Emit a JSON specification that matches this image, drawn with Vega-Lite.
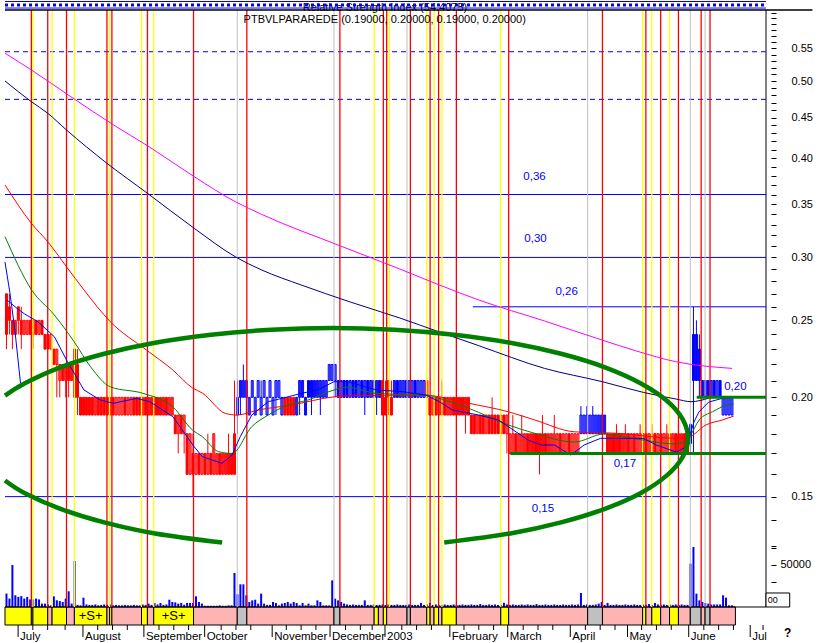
{
"$schema":"https://vega.github.io/schema/vega-lite/v6.json",
"width":771,"height":615,"autosize":"none",
"padding":{"left":0,"top":10,"right":47,"bottom":18},
"background":"white",
"config":{"view":{"stroke":null},"font":"Liberation Sans","axis":{"grid":false}},
"datasets":{
"cd":[
{"t":0.5,"o":0.27,"h":0.27,"l":0.23,"c":0.24,"k":"r","v":16000},
{"t":1.5,"o":0.26,"h":0.27,"l":0.24,"c":0.25,"k":"r","v":10000},
{"t":2.5,"o":0.25,"h":0.25,"l":0.23,"c":0.24,"k":"r","v":50000},
{"t":3.5,"o":0.24,"h":0.25,"l":0.24,"c":0.25,"k":"r","v":14000},
{"t":4.5,"o":0.26,"h":0.26,"l":0.24,"c":0.25,"k":"r","v":12000},
{"t":5.5,"o":0.25,"h":0.26,"l":0.23,"c":0.24,"k":"r","v":13000},
{"t":6.5,"o":0.24,"h":0.25,"l":0.24,"c":0.25,"k":"r","v":10000},
{"t":7.5,"o":0.24,"h":0.25,"l":0.24,"c":0.25,"k":"r","v":12000},
{"t":8.5,"o":0.25,"h":0.25,"l":0.24,"c":0.24,"k":"r","v":9000},
{"t":9.5,"o":0.24,"h":0.25,"l":0.23,"c":0.25,"k":"r","v":9000},
{"t":10.5,"o":0.25,"h":0.25,"l":0.24,"c":0.24,"k":"r","v":10000},
{"t":11.5,"o":0.24,"h":0.25,"l":0.24,"c":0.25,"k":"r","v":9000},
{"t":12.5,"o":0.25,"h":0.25,"l":0.24,"c":0.24,"k":"r","v":4000},
{"t":13.5,"o":0.24,"h":0.24,"l":0.23,"c":0.23,"k":"r","v":4000},
{"t":14.5,"o":0.24,"h":0.24,"l":0.23,"c":0.23,"k":"r","v":3000},
{"t":15.5,"o":0.23,"h":0.24,"l":0.23,"c":0.24,"k":"r","v":2000},
{"t":16.5,"o":0.23,"h":0.23,"l":0.22,"c":0.22,"k":"r","v":12700},
{"t":17.5,"o":0.22,"h":0.23,"l":0.20,"c":0.23,"k":"r","v":8000},
{"t":18.5,"o":0.21,"h":0.22,"l":0.20,"c":0.22,"k":"r","v":7000},
{"t":19.5,"o":0.22,"h":0.22,"l":0.21,"c":0.21,"k":"r","v":6000},
{"t":20.5,"o":0.21,"h":0.22,"l":0.20,"c":0.22,"k":"r","v":10000},
{"t":21.5,"o":0.22,"h":0.22,"l":0.20,"c":0.21,"k":"r","v":18700},
{"t":22.5,"o":0.21,"h":0.22,"l":0.21,"c":0.22,"k":"r","v":4000},
{"t":23.5,"o":0.23,"h":0.23,"l":0.20,"c":0.20,"k":"r","v":54800},
{"t":24.5,"o":0.22,"h":0.23,"l":0.19,"c":0.20,"k":"r","v":2500},
{"t":25.5,"o":0.20,"h":0.20,"l":0.19,"c":0.19,"k":"r","v":2000},
{"t":26.5,"o":0.20,"h":0.20,"l":0.19,"c":0.19,"k":"r","v":11100},
{"t":27.5,"o":0.20,"h":0.20,"l":0.19,"c":0.19,"k":"r","v":3000},
{"t":28.5,"o":0.20,"h":0.20,"l":0.19,"c":0.19,"k":"r","v":2500},
{"t":29.5,"o":0.20,"h":0.20,"l":0.19,"c":0.19,"k":"r","v":2500},
{"t":30.5,"o":0.19,"h":0.20,"l":0.19,"c":0.20,"k":"r","v":3000},
{"t":31.5,"o":0.20,"h":0.20,"l":0.19,"c":0.19,"k":"r","v":2000},
{"t":32.5,"o":0.20,"h":0.20,"l":0.19,"c":0.19,"k":"r","v":2500},
{"t":33.5,"o":0.20,"h":0.20,"l":0.19,"c":0.19,"k":"r","v":3000},
{"t":34.5,"o":0.20,"h":0.20,"l":0.19,"c":0.19,"k":"r","v":2500},
{"t":35.5,"o":0.20,"h":0.20,"l":0.19,"c":0.19,"k":"r","v":3000},
{"t":36.5,"o":0.20,"h":0.20,"l":0.19,"c":0.19,"k":"r","v":2000},
{"t":37.5,"o":0.19,"h":0.20,"l":0.19,"c":0.20,"k":"r","v":2500},
{"t":38.5,"o":0.19,"h":0.20,"l":0.19,"c":0.20,"k":"r","v":2000},
{"t":39.5,"o":0.19,"h":0.20,"l":0.19,"c":0.20,"k":"r","v":2000},
{"t":40.5,"o":0.20,"h":0.20,"l":0.19,"c":0.19,"k":"r","v":2500},
{"t":41.5,"o":0.19,"h":0.20,"l":0.19,"c":0.20,"k":"r","v":2000},
{"t":42.5,"o":0.19,"h":0.20,"l":0.19,"c":0.20,"k":"r","v":2000},
{"t":43.5,"o":0.20,"h":0.20,"l":0.19,"c":0.19,"k":"r","v":2500},
{"t":44.5,"o":0.20,"h":0.20,"l":0.19,"c":0.19,"k":"r","v":2000},
{"t":45.5,"o":0.20,"h":0.20,"l":0.19,"c":0.19,"k":"r","v":2000},
{"t":46.5,"o":0.19,"h":0.20,"l":0.19,"c":0.20,"k":"r","v":3000},
{"t":47.5,"o":0.20,"h":0.20,"l":0.19,"c":0.19,"k":"r","v":2500},
{"t":48.5,"o":0.19,"h":0.20,"l":0.19,"c":0.20,"k":"r","v":4000},
{"t":49.5,"o":0.19,"h":0.20,"l":0.19,"c":0.20,"k":"r","v":2500},
{"t":50.5,"o":0.20,"h":0.20,"l":0.19,"c":0.19,"k":"r","v":4800},
{"t":51.5,"o":0.19,"h":0.20,"l":0.19,"c":0.20,"k":"r","v":3000},
{"t":52.5,"o":0.19,"h":0.20,"l":0.19,"c":0.20,"k":"r","v":4800},
{"t":53.5,"o":0.19,"h":0.20,"l":0.19,"c":0.20,"k":"r","v":2500},
{"t":54.5,"o":0.20,"h":0.20,"l":0.19,"c":0.19,"k":"r","v":3000},
{"t":55.5,"o":0.19,"h":0.20,"l":0.19,"c":0.20,"k":"r","v":8700},
{"t":56.5,"o":0.19,"h":0.20,"l":0.19,"c":0.20,"k":"r","v":6000},
{"t":57.5,"o":0.19,"h":0.19,"l":0.18,"c":0.18,"k":"r","v":5500},
{"t":58.5,"o":0.18,"h":0.19,"l":0.17,"c":0.19,"k":"r","v":4000},
{"t":59.5,"o":0.19,"h":0.19,"l":0.18,"c":0.18,"k":"r","v":4800},
{"t":60.5,"o":0.18,"h":0.19,"l":0.17,"c":0.19,"k":"r","v":2700},
{"t":61.5,"o":0.18,"h":0.18,"l":0.16,"c":0.16,"k":"r","v":4800},
{"t":62.5,"o":0.16,"h":0.18,"l":0.16,"c":0.18,"k":"r","v":4800},
{"t":63.5,"o":0.17,"h":0.18,"l":0.15,"c":0.16,"k":"r","v":4800},
{"t":64.5,"o":0.16,"h":0.17,"l":0.16,"c":0.17,"k":"r","v":12700},
{"t":65.5,"o":0.17,"h":0.17,"l":0.16,"c":0.16,"k":"r","v":6000},
{"t":66.5,"o":0.16,"h":0.17,"l":0.16,"c":0.17,"k":"r","v":4000},
{"t":67.5,"o":0.17,"h":0.17,"l":0.16,"c":0.16,"k":"r","v":1500},
{"t":68.5,"o":0.16,"h":0.18,"l":0.16,"c":0.17,"k":"r","v":1500},
{"t":69.5,"o":0.17,"h":0.17,"l":0.16,"c":0.16,"k":"r","v":1500},
{"t":70.5,"o":0.16,"h":0.18,"l":0.16,"c":0.18,"k":"r","v":1500},
{"t":71.5,"o":0.16,"h":0.17,"l":0.16,"c":0.17,"k":"r","v":1500},
{"t":72.5,"o":0.17,"h":0.17,"l":0.16,"c":0.16,"k":"r","v":2000},
{"t":73.5,"o":0.16,"h":0.17,"l":0.16,"c":0.17,"k":"r","v":1500},
{"t":74.5,"o":0.16,"h":0.17,"l":0.16,"c":0.17,"k":"r","v":1500},
{"t":75.5,"o":0.16,"h":0.18,"l":0.16,"c":0.17,"k":"r","v":2000},
{"t":76.5,"o":0.16,"h":0.17,"l":0.16,"c":0.17,"k":"r","v":2000},
{"t":77.5,"o":0.16,"h":0.21,"l":0.16,"c":0.18,"k":"r","v":40500},
{"t":78.5,"o":0.19,"h":0.21,"l":0.18,"c":0.20,"k":"b","v":15100},
{"t":79.5,"o":0.20,"h":0.21,"l":0.19,"c":0.21,"k":"b","v":27000},
{"t":80.5,"o":0.20,"h":0.22,"l":0.20,"c":0.21,"k":"b","v":27000},
{"t":81.5,"o":0.20,"h":0.21,"l":0.19,"c":0.21,"k":"b","v":13900},
{"t":82.5,"o":0.19,"h":0.20,"l":0.19,"c":0.20,"k":"b","v":6000},
{"t":83.5,"o":0.20,"h":0.21,"l":0.20,"c":0.21,"k":"b","v":7900},
{"t":84.5,"o":0.19,"h":0.20,"l":0.19,"c":0.20,"k":"b","v":8700},
{"t":85.5,"o":0.20,"h":0.21,"l":0.20,"c":0.21,"k":"b","v":4000},
{"t":86.5,"o":0.19,"h":0.21,"l":0.19,"c":0.20,"k":"b","v":15900},
{"t":87.5,"o":0.20,"h":0.21,"l":0.20,"c":0.21,"k":"b","v":4000},
{"t":88.5,"o":0.19,"h":0.20,"l":0.19,"c":0.20,"k":"b","v":2500},
{"t":89.5,"o":0.20,"h":0.21,"l":0.20,"c":0.21,"k":"b","v":2500},
{"t":90.5,"o":0.19,"h":0.20,"l":0.19,"c":0.20,"k":"b","v":6000},
{"t":91.5,"o":0.20,"h":0.21,"l":0.19,"c":0.21,"k":"b","v":4800},
{"t":92.5,"o":0.20,"h":0.21,"l":0.20,"c":0.21,"k":"b","v":2000},
{"t":93.5,"o":0.19,"h":0.20,"l":0.19,"c":0.20,"k":"b","v":4000},
{"t":94.5,"o":0.20,"h":0.20,"l":0.19,"c":0.19,"k":"r","v":4800},
{"t":95.5,"o":0.20,"h":0.20,"l":0.19,"c":0.19,"k":"r","v":6000},
{"t":96.5,"o":0.20,"h":0.20,"l":0.19,"c":0.19,"k":"r","v":4000},
{"t":97.5,"o":0.20,"h":0.20,"l":0.19,"c":0.19,"k":"r","v":6000},
{"t":98.5,"o":0.19,"h":0.20,"l":0.19,"c":0.20,"k":"b","v":4800},
{"t":99.5,"o":0.20,"h":0.21,"l":0.19,"c":0.21,"k":"b","v":2000},
{"t":100.5,"o":0.20,"h":0.21,"l":0.20,"c":0.21,"k":"b","v":4800},
{"t":101.5,"o":0.19,"h":0.20,"l":0.19,"c":0.20,"k":"b","v":2000},
{"t":102.5,"o":0.20,"h":0.21,"l":0.20,"c":0.21,"k":"b","v":4000},
{"t":103.5,"o":0.20,"h":0.21,"l":0.19,"c":0.21,"k":"b","v":2000},
{"t":104.5,"o":0.20,"h":0.21,"l":0.20,"c":0.21,"k":"b","v":2000},
{"t":105.5,"o":0.20,"h":0.21,"l":0.20,"c":0.21,"k":"b","v":7900},
{"t":106.5,"o":0.20,"h":0.21,"l":0.19,"c":0.21,"k":"b","v":6000},
{"t":107.5,"o":0.20,"h":0.21,"l":0.20,"c":0.21,"k":"b","v":2000},
{"t":108.5,"o":0.20,"h":0.21,"l":0.20,"c":0.21,"k":"b","v":2000},
{"t":109.5,"o":0.21,"h":0.22,"l":0.21,"c":0.22,"k":"b","v":2000},
{"t":110.5,"o":0.21,"h":0.22,"l":0.21,"c":0.22,"k":"b","v":31700},
{"t":111.5,"o":0.21,"h":0.22,"l":0.20,"c":0.22,"k":"b","v":9900},
{"t":112.5,"o":0.21,"h":0.21,"l":0.20,"c":0.20,"k":"b","v":7900},
{"t":113.5,"o":0.20,"h":0.21,"l":0.20,"c":0.21,"k":"b","v":6000},
{"t":114.5,"o":0.21,"h":0.21,"l":0.20,"c":0.20,"k":"b","v":4000},
{"t":115.5,"o":0.21,"h":0.21,"l":0.20,"c":0.20,"k":"b","v":3000},
{"t":116.5,"o":0.20,"h":0.21,"l":0.20,"c":0.21,"k":"b","v":2500},
{"t":117.5,"o":0.21,"h":0.21,"l":0.20,"c":0.20,"k":"b","v":3000},
{"t":118.5,"o":0.21,"h":0.21,"l":0.20,"c":0.20,"k":"b","v":2500},
{"t":119.5,"o":0.20,"h":0.21,"l":0.20,"c":0.21,"k":"b","v":2500},
{"t":120.5,"o":0.21,"h":0.21,"l":0.20,"c":0.20,"k":"b","v":2500},
{"t":121.5,"o":0.20,"h":0.21,"l":0.19,"c":0.21,"k":"b","v":7900},
{"t":122.5,"o":0.21,"h":0.21,"l":0.20,"c":0.20,"k":"b","v":2500},
{"t":123.5,"o":0.20,"h":0.21,"l":0.20,"c":0.21,"k":"b","v":2500},
{"t":124.5,"o":0.21,"h":0.21,"l":0.20,"c":0.20,"k":"b","v":3000},
{"t":125.5,"o":0.20,"h":0.21,"l":0.19,"c":0.21,"k":"b","v":2500},
{"t":126.5,"o":0.21,"h":0.21,"l":0.20,"c":0.20,"k":"b","v":2500},
{"t":127.5,"o":0.21,"h":0.21,"l":0.19,"c":0.19,"k":"r","v":3000},
{"t":128.5,"o":0.20,"h":0.21,"l":0.19,"c":0.19,"k":"r","v":2500},
{"t":129.5,"o":0.21,"h":0.21,"l":0.19,"c":0.20,"k":"r","v":3000},
{"t":130.5,"o":0.20,"h":0.21,"l":0.19,"c":0.19,"k":"r","v":2500},
{"t":131.5,"o":0.20,"h":0.21,"l":0.20,"c":0.21,"k":"b","v":2500},
{"t":132.5,"o":0.21,"h":0.21,"l":0.20,"c":0.20,"k":"b","v":3000},
{"t":133.5,"o":0.20,"h":0.21,"l":0.20,"c":0.21,"k":"b","v":2500},
{"t":134.5,"o":0.20,"h":0.21,"l":0.20,"c":0.21,"k":"b","v":2500},
{"t":135.5,"o":0.21,"h":0.21,"l":0.20,"c":0.20,"k":"b","v":2500},
{"t":136.5,"o":0.20,"h":0.21,"l":0.20,"c":0.21,"k":"b","v":3000},
{"t":137.5,"o":0.20,"h":0.21,"l":0.20,"c":0.21,"k":"b","v":2500},
{"t":138.5,"o":0.21,"h":0.21,"l":0.20,"c":0.20,"k":"b","v":2500},
{"t":139.5,"o":0.20,"h":0.21,"l":0.20,"c":0.21,"k":"b","v":2500},
{"t":140.5,"o":0.20,"h":0.21,"l":0.20,"c":0.21,"k":"b","v":4800},
{"t":141.5,"o":0.20,"h":0.21,"l":0.20,"c":0.21,"k":"b","v":2500},
{"t":142.5,"o":0.21,"h":0.21,"l":0.20,"c":0.20,"k":"r","v":3000},
{"t":143.5,"o":0.20,"h":0.20,"l":0.19,"c":0.19,"k":"r","v":4800},
{"t":144.5,"o":0.19,"h":0.20,"l":0.19,"c":0.20,"k":"r","v":2500},
{"t":145.5,"o":0.20,"h":0.20,"l":0.19,"c":0.19,"k":"r","v":3000},
{"t":146.5,"o":0.19,"h":0.20,"l":0.19,"c":0.20,"k":"r","v":2500},
{"t":147.5,"o":0.20,"h":0.21,"l":0.19,"c":0.19,"k":"r","v":2500},
{"t":148.5,"o":0.20,"h":0.20,"l":0.19,"c":0.19,"k":"r","v":3000},
{"t":149.5,"o":0.19,"h":0.20,"l":0.19,"c":0.20,"k":"r","v":2500},
{"t":150.5,"o":0.19,"h":0.20,"l":0.19,"c":0.20,"k":"r","v":2500},
{"t":151.5,"o":0.20,"h":0.20,"l":0.19,"c":0.19,"k":"r","v":3000},
{"t":152.5,"o":0.20,"h":0.21,"l":0.19,"c":0.19,"k":"r","v":2500},
{"t":153.5,"o":0.19,"h":0.20,"l":0.19,"c":0.20,"k":"r","v":2500},
{"t":154.5,"o":0.20,"h":0.20,"l":0.19,"c":0.19,"k":"r","v":3000},
{"t":155.5,"o":0.19,"h":0.20,"l":0.18,"c":0.20,"k":"r","v":2500},
{"t":156.5,"o":0.20,"h":0.20,"l":0.19,"c":0.19,"k":"r","v":2500},
{"t":157.5,"o":0.19,"h":0.19,"l":0.18,"c":0.18,"k":"r","v":3000},
{"t":158.5,"o":0.19,"h":0.19,"l":0.18,"c":0.18,"k":"r","v":2500},
{"t":159.5,"o":0.18,"h":0.19,"l":0.18,"c":0.19,"k":"r","v":2500},
{"t":160.5,"o":0.19,"h":0.19,"l":0.18,"c":0.18,"k":"r","v":3500},
{"t":161.5,"o":0.19,"h":0.19,"l":0.18,"c":0.18,"k":"r","v":2500},
{"t":162.5,"o":0.18,"h":0.19,"l":0.18,"c":0.19,"k":"r","v":2500},
{"t":163.5,"o":0.19,"h":0.19,"l":0.18,"c":0.18,"k":"r","v":3000},
{"t":164.5,"o":0.19,"h":0.20,"l":0.18,"c":0.18,"k":"r","v":2500},
{"t":165.5,"o":0.19,"h":0.19,"l":0.18,"c":0.18,"k":"r","v":3000},
{"t":166.5,"o":0.19,"h":0.19,"l":0.18,"c":0.18,"k":"r","v":2500},
{"t":167.5,"o":0.18,"h":0.19,"l":0.18,"c":0.19,"k":"r","v":2500},
{"t":168.5,"o":0.19,"h":0.19,"l":0.18,"c":0.18,"k":"r","v":5000},
{"t":169.5,"o":0.18,"h":0.19,"l":0.17,"c":0.19,"k":"r","v":3000},
{"t":170.5,"o":0.17,"h":0.18,"l":0.17,"c":0.18,"k":"r","v":2500},
{"t":171.5,"o":0.17,"h":0.19,"l":0.17,"c":0.18,"k":"r","v":3000},
{"t":172.5,"o":0.18,"h":0.18,"l":0.17,"c":0.17,"k":"r","v":2500},
{"t":173.5,"o":0.17,"h":0.18,"l":0.17,"c":0.18,"k":"r","v":2500},
{"t":174.5,"o":0.17,"h":0.19,"l":0.17,"c":0.18,"k":"r","v":3000},
{"t":175.5,"o":0.17,"h":0.18,"l":0.17,"c":0.18,"k":"r","v":2500},
{"t":176.5,"o":0.18,"h":0.18,"l":0.17,"c":0.17,"k":"r","v":3000},
{"t":177.5,"o":0.17,"h":0.18,"l":0.17,"c":0.18,"k":"r","v":2500},
{"t":178.5,"o":0.17,"h":0.18,"l":0.17,"c":0.18,"k":"r","v":2500},
{"t":179.5,"o":0.17,"h":0.18,"l":0.17,"c":0.18,"k":"r","v":3500},
{"t":180.5,"o":0.17,"h":0.18,"l":0.16,"c":0.18,"k":"r","v":2500},
{"t":181.5,"o":0.17,"h":0.19,"l":0.17,"c":0.18,"k":"r","v":2500},
{"t":182.5,"o":0.18,"h":0.18,"l":0.17,"c":0.17,"k":"r","v":3000},
{"t":183.5,"o":0.17,"h":0.18,"l":0.17,"c":0.18,"k":"r","v":2500},
{"t":184.5,"o":0.17,"h":0.18,"l":0.17,"c":0.18,"k":"r","v":2500},
{"t":185.5,"o":0.17,"h":0.19,"l":0.17,"c":0.18,"k":"r","v":3000},
{"t":186.5,"o":0.17,"h":0.18,"l":0.17,"c":0.18,"k":"r","v":2500},
{"t":187.5,"o":0.18,"h":0.18,"l":0.17,"c":0.17,"k":"r","v":2500},
{"t":188.5,"o":0.17,"h":0.18,"l":0.17,"c":0.18,"k":"r","v":3000},
{"t":189.5,"o":0.17,"h":0.18,"l":0.17,"c":0.18,"k":"r","v":2500},
{"t":190.5,"o":0.18,"h":0.18,"l":0.17,"c":0.17,"k":"r","v":2500},
{"t":191.5,"o":0.17,"h":0.18,"l":0.17,"c":0.18,"k":"r","v":3000},
{"t":192.5,"o":0.17,"h":0.18,"l":0.17,"c":0.18,"k":"r","v":2500},
{"t":193.5,"o":0.17,"h":0.18,"l":0.17,"c":0.18,"k":"r","v":3000},
{"t":194.5,"o":0.18,"h":0.195,"l":0.18,"c":0.19,"k":"b","v":16700},
{"t":195.5,"o":0.18,"h":0.19,"l":0.18,"c":0.19,"k":"b","v":2500},
{"t":196.5,"o":0.18,"h":0.195,"l":0.18,"c":0.19,"k":"b","v":3000},
{"t":197.5,"o":0.18,"h":0.19,"l":0.18,"c":0.19,"k":"b","v":2500},
{"t":198.5,"o":0.18,"h":0.195,"l":0.18,"c":0.19,"k":"b","v":2500},
{"t":199.5,"o":0.18,"h":0.19,"l":0.18,"c":0.19,"k":"b","v":3000},
{"t":200.5,"o":0.18,"h":0.19,"l":0.18,"c":0.19,"k":"b","v":4000},
{"t":201.5,"o":0.18,"h":0.19,"l":0.18,"c":0.19,"k":"b","v":6000},
{"t":202.5,"o":0.18,"h":0.19,"l":0.18,"c":0.19,"k":"b","v":2500},
{"t":203.5,"o":0.18,"h":0.18,"l":0.17,"c":0.17,"k":"r","v":4800},
{"t":204.5,"o":0.17,"h":0.18,"l":0.17,"c":0.18,"k":"r","v":2500},
{"t":205.5,"o":0.18,"h":0.18,"l":0.17,"c":0.17,"k":"r","v":2500},
{"t":206.5,"o":0.17,"h":0.185,"l":0.17,"c":0.18,"k":"r","v":3000},
{"t":207.5,"o":0.18,"h":0.18,"l":0.17,"c":0.17,"k":"r","v":2500},
{"t":208.5,"o":0.17,"h":0.18,"l":0.17,"c":0.18,"k":"r","v":2500},
{"t":209.5,"o":0.17,"h":0.185,"l":0.17,"c":0.18,"k":"r","v":3000},
{"t":210.5,"o":0.18,"h":0.18,"l":0.17,"c":0.17,"k":"r","v":2500},
{"t":211.5,"o":0.17,"h":0.18,"l":0.17,"c":0.18,"k":"r","v":2500},
{"t":212.5,"o":0.18,"h":0.18,"l":0.17,"c":0.17,"k":"r","v":3000},
{"t":213.5,"o":0.17,"h":0.18,"l":0.17,"c":0.18,"k":"r","v":2500},
{"t":214.5,"o":0.17,"h":0.185,"l":0.17,"c":0.18,"k":"r","v":2500},
{"t":215.5,"o":0.18,"h":0.18,"l":0.17,"c":0.17,"k":"r","v":3000},
{"t":216.5,"o":0.18,"h":0.18,"l":0.17,"c":0.17,"k":"r","v":2500},
{"t":217.5,"o":0.17,"h":0.18,"l":0.17,"c":0.18,"k":"r","v":3500},
{"t":218.5,"o":0.17,"h":0.185,"l":0.17,"c":0.18,"k":"r","v":2500},
{"t":219.5,"o":0.18,"h":0.18,"l":0.17,"c":0.17,"k":"r","v":4800},
{"t":220.5,"o":0.17,"h":0.18,"l":0.17,"c":0.18,"k":"r","v":3000},
{"t":221.5,"o":0.18,"h":0.18,"l":0.17,"c":0.17,"k":"r","v":2500},
{"t":222.5,"o":0.17,"h":0.18,"l":0.17,"c":0.18,"k":"r","v":3000},
{"t":223.5,"o":0.17,"h":0.185,"l":0.17,"c":0.18,"k":"r","v":2500},
{"t":224.5,"o":0.18,"h":0.18,"l":0.17,"c":0.17,"k":"r","v":3000},
{"t":225.5,"o":0.17,"h":0.18,"l":0.17,"c":0.18,"k":"r","v":2500},
{"t":226.5,"o":0.18,"h":0.18,"l":0.17,"c":0.17,"k":"r","v":3000},
{"t":227.5,"o":0.17,"h":0.18,"l":0.17,"c":0.18,"k":"r","v":2500},
{"t":228.5,"o":0.17,"h":0.18,"l":0.17,"c":0.18,"k":"r","v":3000},
{"t":229.5,"o":0.18,"h":0.18,"l":0.17,"c":0.17,"k":"r","v":2500},
{"t":230.5,"o":0.18,"h":0.18,"l":0.17,"c":0.17,"k":"r","v":2500},
{"t":231.5,"o":0.175,"h":0.185,"l":0.17,"c":0.185,"k":"b","v":51600},
{"t":232.5,"o":0.24,"h":0.26,"l":0.17,"c":0.21,"k":"b","v":71400},
{"t":233.5,"o":0.24,"h":0.25,"l":0.21,"c":0.21,"k":"b","v":15900},
{"t":234.5,"o":0.23,"h":0.24,"l":0.20,"c":0.21,"k":"b","v":7900},
{"t":235.5,"o":0.21,"h":0.21,"l":0.20,"c":0.20,"k":"b","v":6000},
{"t":236.5,"o":0.20,"h":0.21,"l":0.20,"c":0.21,"k":"b","v":4800},
{"t":237.5,"o":0.21,"h":0.21,"l":0.20,"c":0.20,"k":"b","v":4000},
{"t":238.5,"o":0.20,"h":0.21,"l":0.20,"c":0.21,"k":"b","v":3000},
{"t":239.5,"o":0.21,"h":0.21,"l":0.20,"c":0.20,"k":"b","v":3000},
{"t":240.5,"o":0.20,"h":0.21,"l":0.20,"c":0.21,"k":"b","v":3000},
{"t":241.5,"o":0.21,"h":0.21,"l":0.20,"c":0.20,"k":"b","v":3000},
{"t":242.5,"o":0.19,"h":0.20,"l":0.19,"c":0.20,"k":"b","v":13900},
{"t":243.5,"o":0.19,"h":0.20,"l":0.19,"c":0.20,"k":"b","v":11100},
{"t":244.5,"o":0.19,"h":0.20,"l":0.19,"c":0.20,"k":"b","v":2000},
{"t":245.5,"o":0.19,"h":0.20,"l":0.19,"c":0.20,"k":"b","v":2000}
],
"vl":[
{"t":8.9,"k":"s"},{"t":14.43,"k":"s"},{"t":20.77,"k":"s"},{"t":34.43,"k":"s"},{"t":36.1,"k":"s"},{"t":48.1,"k":"s"},{"t":63.67,"k":"s"},{"t":81.67,"k":"s"},{"t":113.1,"k":"s"},{"t":127.77,"k":"s"},{"t":128.9,"k":"s"},{"t":136.9,"k":"s"},{"t":143.57,"k":"s"},{"t":146.43,"k":"s"},{"t":152.43,"k":"s"},{"t":170.1,"k":"s"},{"t":201.77,"k":"s"},{"t":216.43,"k":"s"},{"t":221.43,"k":"s"},{"t":227.43,"k":"s"},{"t":235.1,"k":"s"},{"t":238.1,"k":"s"},
{"t":9.43,"k":"b"},{"t":15.9,"k":"b"},{"t":23.43,"k":"b"},{"t":35.33,"k":"b"},{"t":46.1,"k":"b"},{"t":50.23,"k":"b"},{"t":124.67,"k":"b"},{"t":129.77,"k":"b"},{"t":142.43,"k":"b"},{"t":144.9,"k":"b"},{"t":147.57,"k":"b"},{"t":167.43,"k":"b"},{"t":215.33,"k":"b"},{"t":218.43,"k":"b"},{"t":224.43,"k":"b"},
{"t":78.43,"k":"n"},{"t":111.1,"k":"n"},{"t":135.77,"k":"n"},{"t":196.77,"k":"n"},{"t":231.43,"k":"n"},{"t":236.43,"k":"n"}
],
"st":[
{"t1":0,"t2":8.9,"k":"Y"},{"t1":8.9,"t2":9.43,"k":"X"},{"t1":9.43,"t2":14.43,"k":"Y"},{"t1":14.43,"t2":15.9,"k":"X"},{"t1":15.9,"t2":20.77,"k":"Y"},{"t1":20.77,"t2":23.43,"k":"X"},{"t1":23.43,"t2":34.43,"k":"Y"},{"t1":34.43,"t2":35.33,"k":"X"},{"t1":35.33,"t2":36.1,"k":"Y"},{"t1":36.1,"t2":46.1,"k":"X"},{"t1":46.1,"t2":48.1,"k":"Y"},{"t1":48.1,"t2":50.23,"k":"X"},{"t1":50.23,"t2":63.67,"k":"Y"},{"t1":63.67,"t2":78.43,"k":"X"},{"t1":78.43,"t2":81.67,"k":"G"},{"t1":81.67,"t2":111.1,"k":"X"},{"t1":111.1,"t2":113.1,"k":"G"},{"t1":113.1,"t2":124.67,"k":"X"},{"t1":124.67,"t2":126.1,"k":"Y"},{"t1":126.1,"t2":127.77,"k":"X"},{"t1":127.77,"t2":128.9,"k":"Y"},{"t1":128.9,"t2":135.77,"k":"X"},{"t1":135.77,"t2":136.9,"k":"G"},{"t1":136.9,"t2":142.43,"k":"X"},{"t1":142.43,"t2":143.57,"k":"Y"},{"t1":143.57,"t2":144.9,"k":"X"},{"t1":144.9,"t2":146.43,"k":"Y"},{"t1":146.43,"t2":147.57,"k":"X"},{"t1":147.57,"t2":152.43,"k":"Y"},{"t1":152.43,"t2":167.43,"k":"X"},{"t1":167.43,"t2":170.1,"k":"Y"},{"t1":170.1,"t2":196.77,"k":"X"},{"t1":196.77,"t2":201.77,"k":"G"},{"t1":201.77,"t2":215.33,"k":"X"},{"t1":215.33,"t2":216.43,"k":"Y"},{"t1":216.43,"t2":218.43,"k":"X"},{"t1":218.43,"t2":221.43,"k":"Y"},{"t1":221.43,"t2":224.43,"k":"X"},{"t1":224.43,"t2":227.43,"k":"Y"},{"t1":227.43,"t2":231.43,"k":"X"},{"t1":231.43,"t2":235.1,"k":"G"},{"t1":235.1,"t2":236.43,"k":"X"},{"t1":236.43,"t2":238.1,"k":"G"},{"t1":238.1,"t2":246.67,"k":"X"}
],
"ma":[
{"s":"m","t":0,"p":0.5421},{"s":"m","t":8.9,"p":0.5165},{"s":"m","t":22.23,"p":0.478},{"s":"m","t":36.67,"p":0.4404},{"s":"m","t":48.1,"p":0.4147},{"s":"m","t":63.9,"p":0.3791},{"s":"m","t":77.77,"p":0.3526},{"s":"m","t":86.67,"p":0.3399},{"s":"m","t":113.33,"p":0.3101},{"s":"m","t":133.33,"p":0.2901},{"s":"m","t":146.67,"p":0.277},{"s":"m","t":160,"p":0.2652},{"s":"m","t":182.23,"p":0.2495},{"s":"m","t":201.67,"p":0.2361},{"s":"m","t":213.33,"p":0.2287},{"s":"m","t":226.67,"p":0.2217},{"s":"m","t":245.57,"p":0.2175},
{"s":"n","t":0,"p":0.5003},{"s":"n","t":8.9,"p":0.4711},{"s":"n","t":14.43,"p":0.4556},{"s":"n","t":20.77,"p":0.434},{"s":"n","t":34.43,"p":0.3941},{"s":"n","t":48.1,"p":0.3613},{"s":"n","t":63.9,"p":0.3264},{"s":"n","t":77.77,"p":0.3006},{"s":"n","t":86.67,"p":0.2893},{"s":"n","t":100,"p":0.277},{"s":"n","t":116.67,"p":0.2636},{"s":"n","t":133.33,"p":0.2517},{"s":"n","t":146.67,"p":0.2417},{"s":"n","t":160,"p":0.2323},{"s":"n","t":182.23,"p":0.2175},{"s":"n","t":201.67,"p":0.2093},{"s":"n","t":215.57,"p":0.2029},{"s":"n","t":226.67,"p":0.199},{"s":"n","t":231.67,"p":0.1975},{"s":"n","t":237.77,"p":0.1996},
{"s":"r","t":0,"p":0.3701},{"s":"r","t":8.9,"p":0.3312},{"s":"r","t":14.43,"p":0.314},{"s":"r","t":20.77,"p":0.292},{"s":"r","t":26.67,"p":0.273},{"s":"r","t":35.57,"p":0.249},{"s":"r","t":47.77,"p":0.2294},{"s":"r","t":56.67,"p":0.2165},{"s":"r","t":63.33,"p":0.2055},{"s":"r","t":66.67,"p":0.2025},{"s":"r","t":74.43,"p":0.1909},{"s":"r","t":78.33,"p":0.19},{"s":"r","t":85.57,"p":0.1928},{"s":"r","t":96.67,"p":0.1956},{"s":"r","t":111.1,"p":0.2003},{"s":"r","t":115.57,"p":0.2009},{"s":"r","t":142.23,"p":0.2013},{"s":"r","t":146.67,"p":0.2003},{"s":"r","t":156.67,"p":0.1966},{"s":"r","t":170,"p":0.1918},{"s":"r","t":178.9,"p":0.1873},{"s":"r","t":192.23,"p":0.181},{"s":"r","t":206.67,"p":0.1802},{"s":"r","t":226.67,"p":0.1776},{"s":"r","t":231.1,"p":0.1784},{"s":"r","t":236.67,"p":0.1846},{"s":"r","t":242.23,"p":0.1873},{"s":"r","t":246.1,"p":0.1894},
{"s":"g","t":0,"p":0.3186},{"s":"g","t":9,"p":0.273},{"s":"g","t":16.67,"p":0.2539},{"s":"g","t":23.33,"p":0.235},{"s":"g","t":28.9,"p":0.2185},{"s":"g","t":35.57,"p":0.2062},{"s":"g","t":46.67,"p":0.2023},{"s":"g","t":56.67,"p":0.1946},{"s":"g","t":63.33,"p":0.1819},{"s":"g","t":66.67,"p":0.1784},{"s":"g","t":72.23,"p":0.1708},{"s":"g","t":76.67,"p":0.17},{"s":"g","t":83.33,"p":0.1837},{"s":"g","t":88.9,"p":0.19},{"s":"g","t":95.57,"p":0.1956},{"s":"g","t":102.23,"p":0.1984},{"s":"g","t":111.1,"p":0.2043},{"s":"g","t":115.57,"p":0.2059},{"s":"g","t":125.57,"p":0.2023},{"s":"g","t":142.23,"p":0.2013},{"s":"g","t":146.67,"p":0.1994},{"s":"g","t":156.67,"p":0.1937},{"s":"g","t":170,"p":0.1846},{"s":"g","t":178.9,"p":0.1802},{"s":"g","t":192.23,"p":0.1757},{"s":"g","t":202.23,"p":0.1798},{"s":"g","t":215.57,"p":0.1767},{"s":"g","t":226.67,"p":0.1747},{"s":"g","t":231.1,"p":0.1784},{"s":"g","t":234.43,"p":0.1873},{"s":"g","t":238.9,"p":0.1918},{"s":"g","t":243.9,"p":0.1956},{"s":"g","t":246.1,"p":0.1962},
{"s":"b","t":0.67,"p":0.2652},{"s":"b","t":3.9,"p":0.2591},{"s":"b","t":6.67,"p":0.2546},{"s":"b","t":11.1,"p":0.249},{"s":"b","t":16.67,"p":0.2384},{"s":"b","t":21.1,"p":0.2217},{"s":"b","t":26.67,"p":0.2043},{"s":"b","t":32.23,"p":0.1984},{"s":"b","t":36.67,"p":0.1966},{"s":"b","t":44.43,"p":0.1994},{"s":"b","t":48.9,"p":0.1975},{"s":"b","t":56.67,"p":0.1891},{"s":"b","t":63.9,"p":0.1733},{"s":"b","t":66.67,"p":0.1684},{"s":"b","t":73.33,"p":0.1652},{"s":"b","t":76.67,"p":0.1692},{"s":"b","t":79.43,"p":0.1784},{"s":"b","t":83.33,"p":0.19},{"s":"b","t":88.9,"p":0.1975},{"s":"b","t":95.57,"p":0.2003},{"s":"b","t":100,"p":0.2023},{"s":"b","t":105.57,"p":0.2043},{"s":"b","t":111.1,"p":0.2093},{"s":"b","t":115.57,"p":0.2093},{"s":"b","t":125.57,"p":0.2043},{"s":"b","t":134.43,"p":0.2033},{"s":"b","t":142.23,"p":0.2013},{"s":"b","t":146.67,"p":0.1975},{"s":"b","t":151.1,"p":0.1928},{"s":"b","t":160,"p":0.19},{"s":"b","t":166.67,"p":0.1873},{"s":"b","t":170,"p":0.1837},{"s":"b","t":176.67,"p":0.1767},{"s":"b","t":181.1,"p":0.1742},{"s":"b","t":185.57,"p":0.1742},{"s":"b","t":191.1,"p":0.1692},{"s":"b","t":195.57,"p":0.1742},{"s":"b","t":201.1,"p":0.1776},{"s":"b","t":206.67,"p":0.1776},{"s":"b","t":215.57,"p":0.1776},{"s":"b","t":220,"p":0.1742},{"s":"b","t":226.67,"p":0.1707},{"s":"b","t":230,"p":0.1732},{"s":"b","t":231.1,"p":0.1783},{"s":"b","t":232.67,"p":0.1862},{"s":"b","t":234.33,"p":0.1917},{"s":"b","t":237.67,"p":0.1973},{"s":"b","t":242.23,"p":0.1994},{"s":"b","t":246.1,"p":0.2},
{"s":"q","t":0,"p":0.296},{"s":"q","t":1.67,"p":0.2706},{"s":"q","t":3.33,"p":0.2431},{"s":"q","t":5.23,"p":0.2085}
],
"el":[
{"a":"u","i":1,"t":0,"p":0.201},{"a":"u","i":2,"t":6.73,"p":0.2084},{"a":"u","i":3,"t":18.73,"p":0.2182},{"a":"u","i":4,"t":33.53,"p":0.2269},{"a":"u","i":5,"t":50.67,"p":0.2343},{"a":"u","i":6,"t":69.63,"p":0.2398},{"a":"u","i":7,"t":89.83,"p":0.2433},{"a":"u","i":8,"t":110.67,"p":0.2445},{"a":"u","i":9,"t":131.5,"p":0.2433},{"a":"u","i":10,"t":151.7,"p":0.2398},{"a":"u","i":11,"t":170.67,"p":0.2343},{"a":"u","i":12,"t":187.8,"p":0.2269},{"a":"u","i":13,"t":202.6,"p":0.2182},{"a":"u","i":14,"t":214.6,"p":0.2084},{"a":"u","i":15,"t":223.43,"p":0.1982},{"a":"u","i":16,"t":228.83,"p":0.1878},{"a":"u","i":17,"t":230.67,"p":0.1777},{"a":"u","i":18,"t":228.83,"p":0.1682},{"a":"u","i":19,"t":223.43,"p":0.1594},{"a":"u","i":20,"t":214.6,"p":0.1515},{"a":"u","i":21,"t":202.6,"p":0.1448},{"a":"u","i":22,"t":187.8,"p":0.1392},{"a":"u","i":23,"t":170.67,"p":0.1348},{"a":"u","i":24,"t":148.33,"p":0.1313},
{"a":"l","i":1,"t":0,"p":0.1572},{"a":"l","i":2,"t":6.73,"p":0.1515},{"a":"l","i":3,"t":18.73,"p":0.1448},{"a":"l","i":4,"t":33.53,"p":0.1392},{"a":"l","i":5,"t":50.67,"p":0.1348},{"a":"l","i":6,"t":73.33,"p":0.1313}
],
"hl":[
{"p":0.5445,"t1":0,"t2":257,"k":"d"},{"p":0.4743,"t1":0,"t2":257,"k":"d"},
{"p":0.36,"t1":0,"t2":257,"k":"b"},{"p":0.30,"t1":0,"t2":257,"k":"b"},{"p":0.26,"t1":158,"t2":257,"k":"b"},{"p":0.15,"t1":0,"t2":257,"k":"b"},
{"p":0.20,"t1":233.6,"t2":257,"k":"g"},{"p":0.17,"t1":170.6,"t2":257,"k":"g"}
],
"lb":[
{"t":178.83,"p":0.3782,"s":"0,36"},{"t":179.17,"p":0.3164,"s":"0,30"},{"t":189.67,"p":0.2714,"s":"0,26"},{"t":246.67,"p":0.2061,"s":"0,20"},{"t":209.33,"p":0.1648,"s":"0,17"},{"t":181.67,"p":0.1447,"s":"0,15"}
],
"mo":[
{"t":4.43,"m":"July"},{"t":26.33,"m":"August"},{"t":46.9,"m":"September"},{"t":67.43,"m":"October"},{"t":90.23,"m":"November"},{"t":109.77,"m":"December"},{"t":128.33,"m":"2003"},{"t":150.23,"m":"February"},{"t":169.77,"m":"March"},{"t":190.9,"m":"April"},{"t":210.23,"m":"May"},{"t":230.9,"m":"June"},{"t":251.67,"m":"Jul"}
],
"wk":[
{"t":9.4},{"t":14.4},{"t":20.3},{"t":31.3},{"t":36.3},{"t":41.3},{"t":52},{"t":57},{"t":62},{"t":73},{"t":78},{"t":83},{"t":95},{"t":100},{"t":105},{"t":115},{"t":120},{"t":124},{"t":134},{"t":139},{"t":144},{"t":155},{"t":160},{"t":165},{"t":175},{"t":180},{"t":185},{"t":196},{"t":201},{"t":206},{"t":215},{"t":220},{"t":225},{"t":236},{"t":241},{"t":246},{"t":256}
],
"ss":[{"t":28.93,"s":"+S+"},{"t":56.95,"s":"+S+"}]
},
"layer":[
{
"layer":[
{"data":{"name":"cd"},"mark":{"type":"bar","size":2,"color":"#0000ff"},
 "encoding":{"x":{"field":"t","type":"quantitative","scale":{"domain":[0,257],"nice":false,"zero":false},"axis":null},
 "y":{"field":"v","type":"quantitative","scale":{"domain":[-21429,710714],"nice":false,"zero":false},
   "axis":{"orient":"right","values":[30000,50000,70000],"labelExpr":"datum.value == 50000 ? '50000' : ''","tickSize":5,"labelPadding":4,"domain":false,"title":null,"labelFontSize":11,"labelFont":"Liberation Sans","labelColor":"#000000","tickColor":"#000000","labelOverlap":false,"grid":false}},
 "y2":{"datum":0}}},
{"data":{"name":"st"},"mark":{"type":"rect","stroke":"#000000","strokeWidth":1},
 "encoding":{"x":{"field":"t1","type":"quantitative","axis":null},"x2":{"field":"t2"},
 "y":{"datum":0,"type":"quantitative","axis":{"title":null}},"y2":{"datum":-21429},
 "fill":{"field":"k","type":"nominal","scale":{"domain":["Y","X","G"],"range":["#ffff00","#ffb4b4","#c0c0c0"]},"legend":null}}},
{"data":{"name":"ss"},"mark":{"type":"text","fontSize":13,"font":"Liberation Sans","color":"#000000","align":"center","baseline":"middle"},
 "encoding":{"x":{"field":"t","type":"quantitative","axis":null},"y":{"datum":-10714,"type":"quantitative","axis":{"title":null}},"text":{"field":"s"}}},
{"data":{"values":[{}]},"mark":{"type":"rule","color":"#000000","strokeWidth":1},
 "encoding":{"x":{"datum":0,"type":"quantitative","axis":null},"x2":{"datum":257},"y":{"datum":0,"type":"quantitative","axis":{"title":null}}}},
{"data":{"values":[{}]},"mark":{"type":"rule","color":"#000000","strokeWidth":1},
 "encoding":{"x":{"datum":257,"type":"quantitative","axis":null},"y":{"datum":0,"type":"quantitative","axis":{"title":null}},"y2":{"datum":710714}}},
{"data":{"name":"mo"},"mark":{"type":"rule","color":"#000000","strokeWidth":1},
 "encoding":{"x":{"field":"t","type":"quantitative","axis":null},"y":{"datum":-21429,"type":"quantitative","axis":{"title":null}},"y2":{"datum":-35714}}},
{"data":{"name":"wk"},"mark":{"type":"rule","color":"#000000","strokeWidth":1},
 "encoding":{"x":{"field":"t","type":"quantitative","axis":null},"y":{"datum":-21429,"type":"quantitative","axis":{"title":null}},"y2":{"datum":-27381}}},
{"data":{"name":"mo"},"mark":{"type":"text","fontSize":11.5,"font":"Liberation Sans","color":"#000000","align":"left","baseline":"alphabetic","dx":2},
 "encoding":{"x":{"field":"t","type":"quantitative","axis":null},"y":{"datum":-39286,"type":"quantitative","axis":{"title":null}},"text":{"field":"m"}}},
{"data":{"values":[{}]},"mark":{"type":"rect","fill":"#ffffff","stroke":"#000000","strokeWidth":1},
 "encoding":{"x":{"datum":257,"type":"quantitative","axis":null},"x2":{"datum":265},"y":{"datum":0,"type":"quantitative","axis":{"title":null}},"y2":{"datum":16667}}},
{"data":{"values":[{"s":"00"}]},"mark":{"type":"text","fontSize":9,"font":"Liberation Sans","color":"#000000","align":"left","baseline":"middle"},
 "encoding":{"x":{"datum":257.6,"type":"quantitative","axis":null},"y":{"datum":8300,"type":"quantitative","axis":{"title":null}},"text":{"field":"s"}}},
{"data":{"values":[{"s":"?"}]},"mark":{"type":"text","fontSize":12,"fontWeight":"bold","font":"Liberation Sans","color":"#000000","align":"center","baseline":"middle"},
 "encoding":{"x":{"datum":264.3,"type":"quantitative","axis":null},"y":{"datum":-30953,"type":"quantitative","axis":{"title":null}},"text":{"field":"s"}}}
]
},
{
"layer":[
{"data":{"name":"cd"},"mark":{"type":"rule","strokeWidth":1},
 "encoding":{"x":{"field":"t","type":"quantitative","scale":{"domain":[0,257],"nice":false,"zero":false},"axis":null},
 "y":{"field":"l","type":"quantitative","scale":{"type":"log","domain":[0.1034,0.6145],"nice":false,"zero":false},
   "axis":{"orient":"right","values":[0.13,0.14,0.15,0.16,0.17,0.18,0.19,0.2,0.21,0.22,0.23,0.24,0.25,0.26,0.27,0.28,0.29,0.3,0.31,0.32,0.33,0.34,0.35,0.36,0.37,0.38,0.39,0.4,0.41,0.42,0.43,0.44,0.45,0.46,0.47,0.48,0.49,0.5,0.51,0.52,0.53,0.54,0.55,0.56,0.57,0.58,0.59,0.6,0.61],"labelExpr":"(round(datum.value*100) % 5 == 0 && datum.value < 0.58) ? format(datum.value, '.2f') : ''","tickSize":5,"labelPadding":15,"domain":false,"title":null,"labelFontSize":11,"labelFont":"Liberation Sans","labelColor":"#000000","tickColor":"#000000","labelOverlap":false,"grid":false}},
 "y2":{"field":"h"},
 "color":{"field":"k","type":"nominal","scale":{"domain":["r","b"],"range":["#ff0000","#0000ff"]},"legend":null}}},
{"data":{"name":"cd"},"mark":{"type":"bar","size":2,"strokeWidth":1},
 "encoding":{"x":{"field":"t","type":"quantitative","axis":null},"y":{"field":"o","type":"quantitative","axis":{"title":null}},"y2":{"field":"c"},
 "fill":{"field":"k","type":"nominal","scale":{"domain":["r","b"],"range":["#ff0000","#0000ff"]},"legend":null},
 "stroke":{"field":"k","type":"nominal","scale":{"domain":["r","b"],"range":["#ff0000","#0000ff"]},"legend":null},
 "fillOpacity":{"condition":{"test":"datum.c >= datum.o","value":0},"value":1}}},
{"data":{"name":"hl"},"transform":[{"filter":"datum.k == 'b'"}],"mark":{"type":"rule","color":"#0000ff","strokeWidth":1},
 "encoding":{"x":{"field":"t1","type":"quantitative","axis":null},"x2":{"field":"t2"},"y":{"field":"p","type":"quantitative","axis":{"title":null}}}},
{"data":{"name":"hl"},"transform":[{"filter":"datum.k == 'd'"}],"mark":{"type":"rule","color":"#0000ff","strokeWidth":1,"strokeDash":[5,4]},
 "encoding":{"x":{"field":"t1","type":"quantitative","axis":null},"x2":{"field":"t2"},"y":{"field":"p","type":"quantitative","axis":{"title":null}}}},
{"data":{"name":"vl"},"transform":[{"filter":"datum.k == 'n'"}],"mark":{"type":"rule","color":"#c0c0c0","strokeWidth":1},
 "encoding":{"x":{"field":"t","type":"quantitative","axis":null},"y":{"datum":0.1089,"type":"quantitative","axis":{"title":null}},"y2":{"datum":0.6145}}},
{"data":{"name":"vl"},"transform":[{"filter":"datum.k == 'b'"}],"mark":{"type":"rule","color":"#ffff00","strokeWidth":1.3},
 "encoding":{"x":{"field":"t","type":"quantitative","axis":null},"y":{"datum":0.1089,"type":"quantitative","axis":{"title":null}},"y2":{"datum":0.6145}}},
{"data":{"name":"vl"},"transform":[{"filter":"datum.k == 's'"}],"mark":{"type":"rule","color":"#ff0000","strokeWidth":1.3},
 "encoding":{"x":{"field":"t","type":"quantitative","axis":null},"y":{"datum":0.1089,"type":"quantitative","axis":{"title":null}},"y2":{"datum":0.6145}}},
{"data":{"name":"ma"},"transform":[{"filter":"datum.s == 'm'"}],"mark":{"type":"line","color":"#ff00ff","strokeWidth":1,"interpolate":"monotone"},
 "encoding":{"x":{"field":"t","type":"quantitative","axis":null},"y":{"field":"p","type":"quantitative","axis":{"title":null}}}},
{"data":{"name":"ma"},"transform":[{"filter":"datum.s == 'n'"}],"mark":{"type":"line","color":"#000080","strokeWidth":1,"interpolate":"monotone"},
 "encoding":{"x":{"field":"t","type":"quantitative","axis":null},"y":{"field":"p","type":"quantitative","axis":{"title":null}}}},
{"data":{"name":"ma"},"transform":[{"filter":"datum.s == 'r'"}],"mark":{"type":"line","color":"#ff0000","strokeWidth":1,"interpolate":"monotone"},
 "encoding":{"x":{"field":"t","type":"quantitative","axis":null},"y":{"field":"p","type":"quantitative","axis":{"title":null}}}},
{"data":{"name":"ma"},"transform":[{"filter":"datum.s == 'g'"}],"mark":{"type":"line","color":"#008000","strokeWidth":1,"interpolate":"monotone"},
 "encoding":{"x":{"field":"t","type":"quantitative","axis":null},"y":{"field":"p","type":"quantitative","axis":{"title":null}}}},
{"data":{"name":"ma"},"transform":[{"filter":"datum.s == 'b' || datum.s == 'q'"}],"mark":{"type":"line","color":"#0000ff","strokeWidth":1},
 "encoding":{"x":{"field":"t","type":"quantitative","axis":null},"y":{"field":"p","type":"quantitative","axis":{"title":null}},"detail":{"field":"s"}}},
{"data":{"name":"hl"},"transform":[{"filter":"datum.k == 'g'"}],"mark":{"type":"rule","color":"#008000","strokeWidth":3},
 "encoding":{"x":{"field":"t1","type":"quantitative","axis":null},"x2":{"field":"t2"},"y":{"field":"p","type":"quantitative","axis":{"title":null}}}},
{"data":{"name":"el"},"mark":{"type":"line","color":"#008000","strokeWidth":4.5,"interpolate":"cardinal"},
 "encoding":{"x":{"field":"t","type":"quantitative","axis":null},"y":{"field":"p","type":"quantitative","axis":{"title":null}},"detail":{"field":"a"},"order":{"field":"i","type":"quantitative"}}},
{"data":{"name":"lb"},"mark":{"type":"text","color":"#0000ff","fontSize":11.5,"font":"Liberation Sans","align":"center","baseline":"middle"},
 "encoding":{"x":{"field":"t","type":"quantitative","axis":null},"y":{"field":"p","type":"quantitative","axis":{"title":null}},"text":{"field":"s"}}},
{"data":{"values":[{"s":"Relative Strength Index (54.4075)"}]},"mark":{"type":"text","color":"#000000","fontSize":11,"font":"Liberation Sans","align":"center","baseline":"alphabetic"},
 "encoding":{"x":{"datum":128.33,"type":"quantitative","axis":null},"y":{"datum":0.6127,"type":"quantitative","axis":{"title":null}},"text":{"field":"s"}}},
{"data":{"values":[{"s":"PTBVLPARAREDE (0.19000, 0.20000, 0.19000, 0.20000)"}]},"mark":{"type":"text","color":"#000000","fontSize":11,"font":"Liberation Sans","align":"left","baseline":"alphabetic"},
 "encoding":{"x":{"datum":80.57,"type":"quantitative","axis":null},"y":{"datum":0.5913,"type":"quantitative","axis":{"title":null}},"text":{"field":"s"}}},
{"data":{"values":[{}]},"mark":{"type":"rule","color":"#0000ff","strokeWidth":1},
 "encoding":{"x":{"datum":0,"type":"quantitative","axis":null},"x2":{"datum":257},"y":{"datum":0.6298,"type":"quantitative","axis":{"title":null}}}},
{"data":{"values":[{}]},"mark":{"type":"rule","color":"#0000ff","strokeWidth":3,"strokeDash":[3,3]},
 "encoding":{"x":{"datum":0,"type":"quantitative","axis":null},"x2":{"datum":257},"y":{"datum":0.6235,"type":"quantitative","axis":{"title":null}}}},
{"data":{"values":[{}]},"mark":{"type":"rule","color":"#0000ff","strokeWidth":1},
 "encoding":{"x":{"datum":0,"type":"quantitative","axis":null},"x2":{"datum":257},"y":{"datum":0.618,"type":"quantitative","axis":{"title":null}}}},
{"data":{"values":[{}]},"mark":{"type":"rule","color":"#000000","strokeWidth":1.5},
 "encoding":{"x":{"datum":0,"type":"quantitative","axis":null},"x2":{"datum":272.67},"y":{"datum":0.6145,"type":"quantitative","axis":{"title":null}}}}
]
}
],
"resolve":{"scale":{"y":"independent","color":"independent","fill":"independent","stroke":"independent"},"axis":{"y":"independent"}}
}
